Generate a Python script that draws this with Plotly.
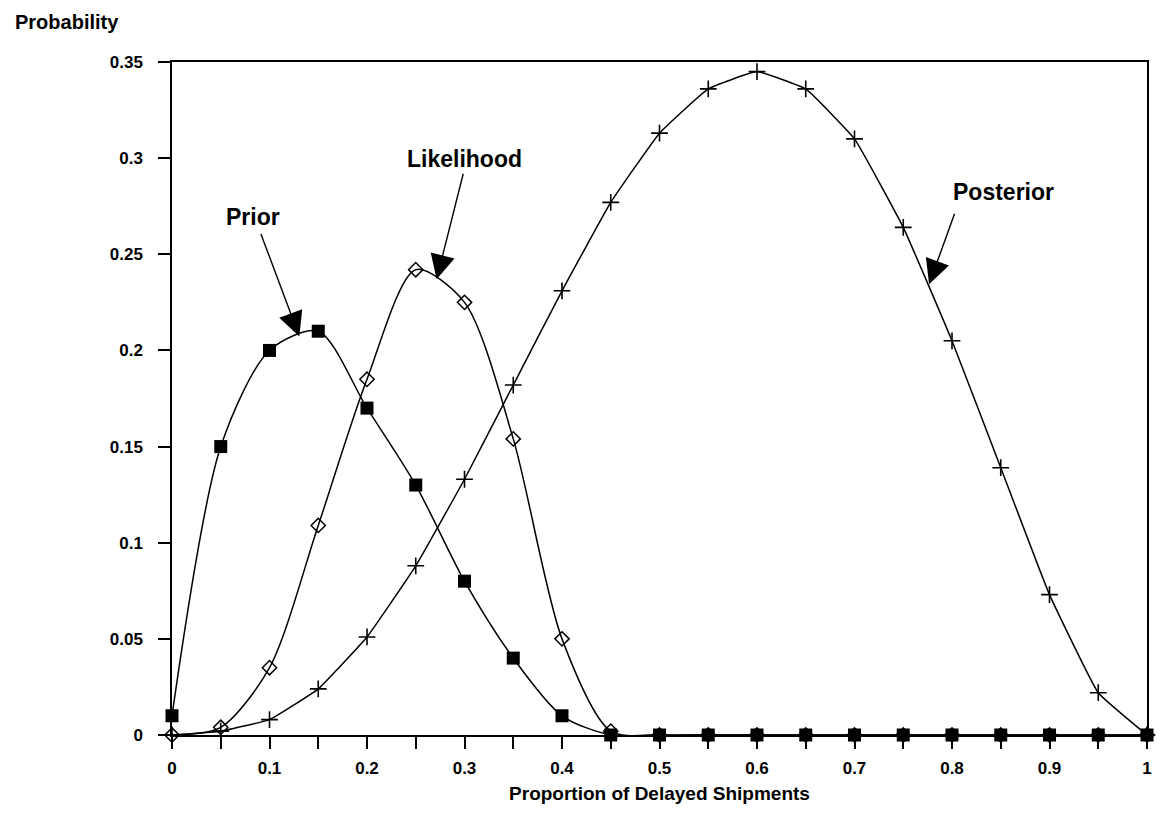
import plotly.graph_objects as go

# Proportion of delayed shipments
proportion = [0.0, 0.05, 0.1, 0.15, 0.2, 0.25, 0.3, 0.35, 0.4, 0.45, 0.5,
              0.55, 0.6, 0.65, 0.7, 0.75, 0.8, 0.85, 0.9, 0.95, 1.0]

prior = [0.01, 0.15, 0.2, 0.21, 0.17, 0.13, 0.08, 0.04, 0.01, 0.0, 0.0,
         0.0, 0.0, 0.0, 0.0, 0.0, 0.0, 0.0, 0.0, 0.0, 0.0]

likelihood = [0.0, 0.004, 0.035, 0.109, 0.185, 0.242, 0.225, 0.154, 0.05, 0.002, 0.0,
              0.0, 0.0, 0.0, 0.0, 0.0, 0.0, 0.0, 0.0, 0.0, 0.0]

posterior = [0.0, 0.002, 0.008, 0.024, 0.051, 0.088, 0.133, 0.182, 0.231, 0.277, 0.313,
             0.336, 0.345, 0.336, 0.31, 0.264, 0.205, 0.139, 0.073, 0.022, 0.0]

FONT = 'Liberation Sans'

fig = go.Figure()

# Posterior
fig.add_trace(
    go.Scatter(
        x=proportion, y=posterior, name='Posterior',
        mode='lines+markers',
        line=dict(color='black', width=1.5, shape='spline', smoothing=0.3),
        marker=dict(symbol='cross-thin-open', size=12,
                    line=dict(color='black', width=1.6)),
        cliponaxis=False
    )
)

# Likelihood
fig.add_trace(
    go.Scatter(
        x=proportion, y=likelihood, name='Likelihood',
        mode='lines+markers',
        line=dict(color='black', width=1.5, shape='spline', smoothing=0.8),
        marker=dict(symbol='diamond-open', size=11,
                    line=dict(color='black', width=1.5)),
        cliponaxis=False
    )
)

# Prior
fig.add_trace(
    go.Scatter(
        x=proportion, y=prior, name='Prior',
        mode='lines+markers',
        line=dict(color='black', width=1.5, shape='spline', smoothing=0.8),
        marker=dict(symbol='square', size=13, color='black'),
        cliponaxis=False
    )
)

# Arrows pointing at the curves (tip in data coords, tail offset in px)
arrows = [
    dict(x=0.1306, y=0.2073, ax=-39, ay=-104),
    dict(x=0.2714, y=0.2370, ax=27, ay=-107),
    dict(x=0.7765, y=0.2344, ax=26, ay=-72),
]
for a in arrows:
    fig.add_annotation(
        x=a['x'], y=a['y'], ax=a['ax'], ay=a['ay'], text='',
        showarrow=True, arrowhead=2, arrowsize=3.5, arrowwidth=1.4,
        arrowcolor='black', standoff=0
    )

# Curve labels
labels = [
    dict(text='Prior', x=0.0827, y=0.2693),
    dict(text='Likelihood', x=0.3000, y=0.2995),
    dict(text='Posterior', x=0.8531, y=0.2823),
]
for lab in labels:
    fig.add_annotation(
        x=lab['x'], y=lab['y'], text=lab['text'], showarrow=False,
        font=dict(family=FONT, size=23, color='black', weight='bold')
    )

# y-axis caption at top left
fig.add_annotation(
    xref='paper', yref='paper', x=-0.163, y=1.0594,
    xanchor='left', yanchor='middle', text='Probability', showarrow=False,
    font=dict(family=FONT, size=20, color='black', weight='bold')
)

fig.update_layout(
    width=1160, height=837,
    margin=dict(l=172, r=8, t=62, b=102),
    paper_bgcolor='white', plot_bgcolor='white',
    showlegend=False,
    font=dict(family=FONT, color='black')
)

fig.update_xaxes(
    range=[0, 1], dtick=0.1, tick0=0,
    showgrid=False, zeroline=False,
    showline=True, linecolor='black', linewidth=1.5, mirror=True,
    ticks='outside', ticklen=12, tickwidth=1.5, tickcolor='black',
    minor=dict(dtick=0.05, ticks='outside', ticklen=12, tickwidth=1.5,
               tickcolor='black', showgrid=False),
    ticklabelstandoff=5,
    tickfont=dict(family=FONT, size=17, color='black', weight='bold'),
    title=dict(text='Proportion of Delayed Shipments', standoff=10,
               font=dict(family=FONT, size=19, color='black', weight='bold'))
)

fig.update_yaxes(
    range=[0, 0.35], dtick=0.05, tick0=0,
    showgrid=False, zeroline=False,
    showline=True, linecolor='black', linewidth=1.5, mirror=True,
    ticks='outside', ticklen=12, tickwidth=1.5, tickcolor='black',
    ticklabelstandoff=12,
    tickfont=dict(family=FONT, size=17, color='black', weight='bold')
)

# drop the default page margin so the figure sits at the window's corner
fig.write_html(
    "out.html",
    config={'displayModeBar': False},
    post_script="document.body.style.margin='0';document.body.style.overflow='hidden';"
)
